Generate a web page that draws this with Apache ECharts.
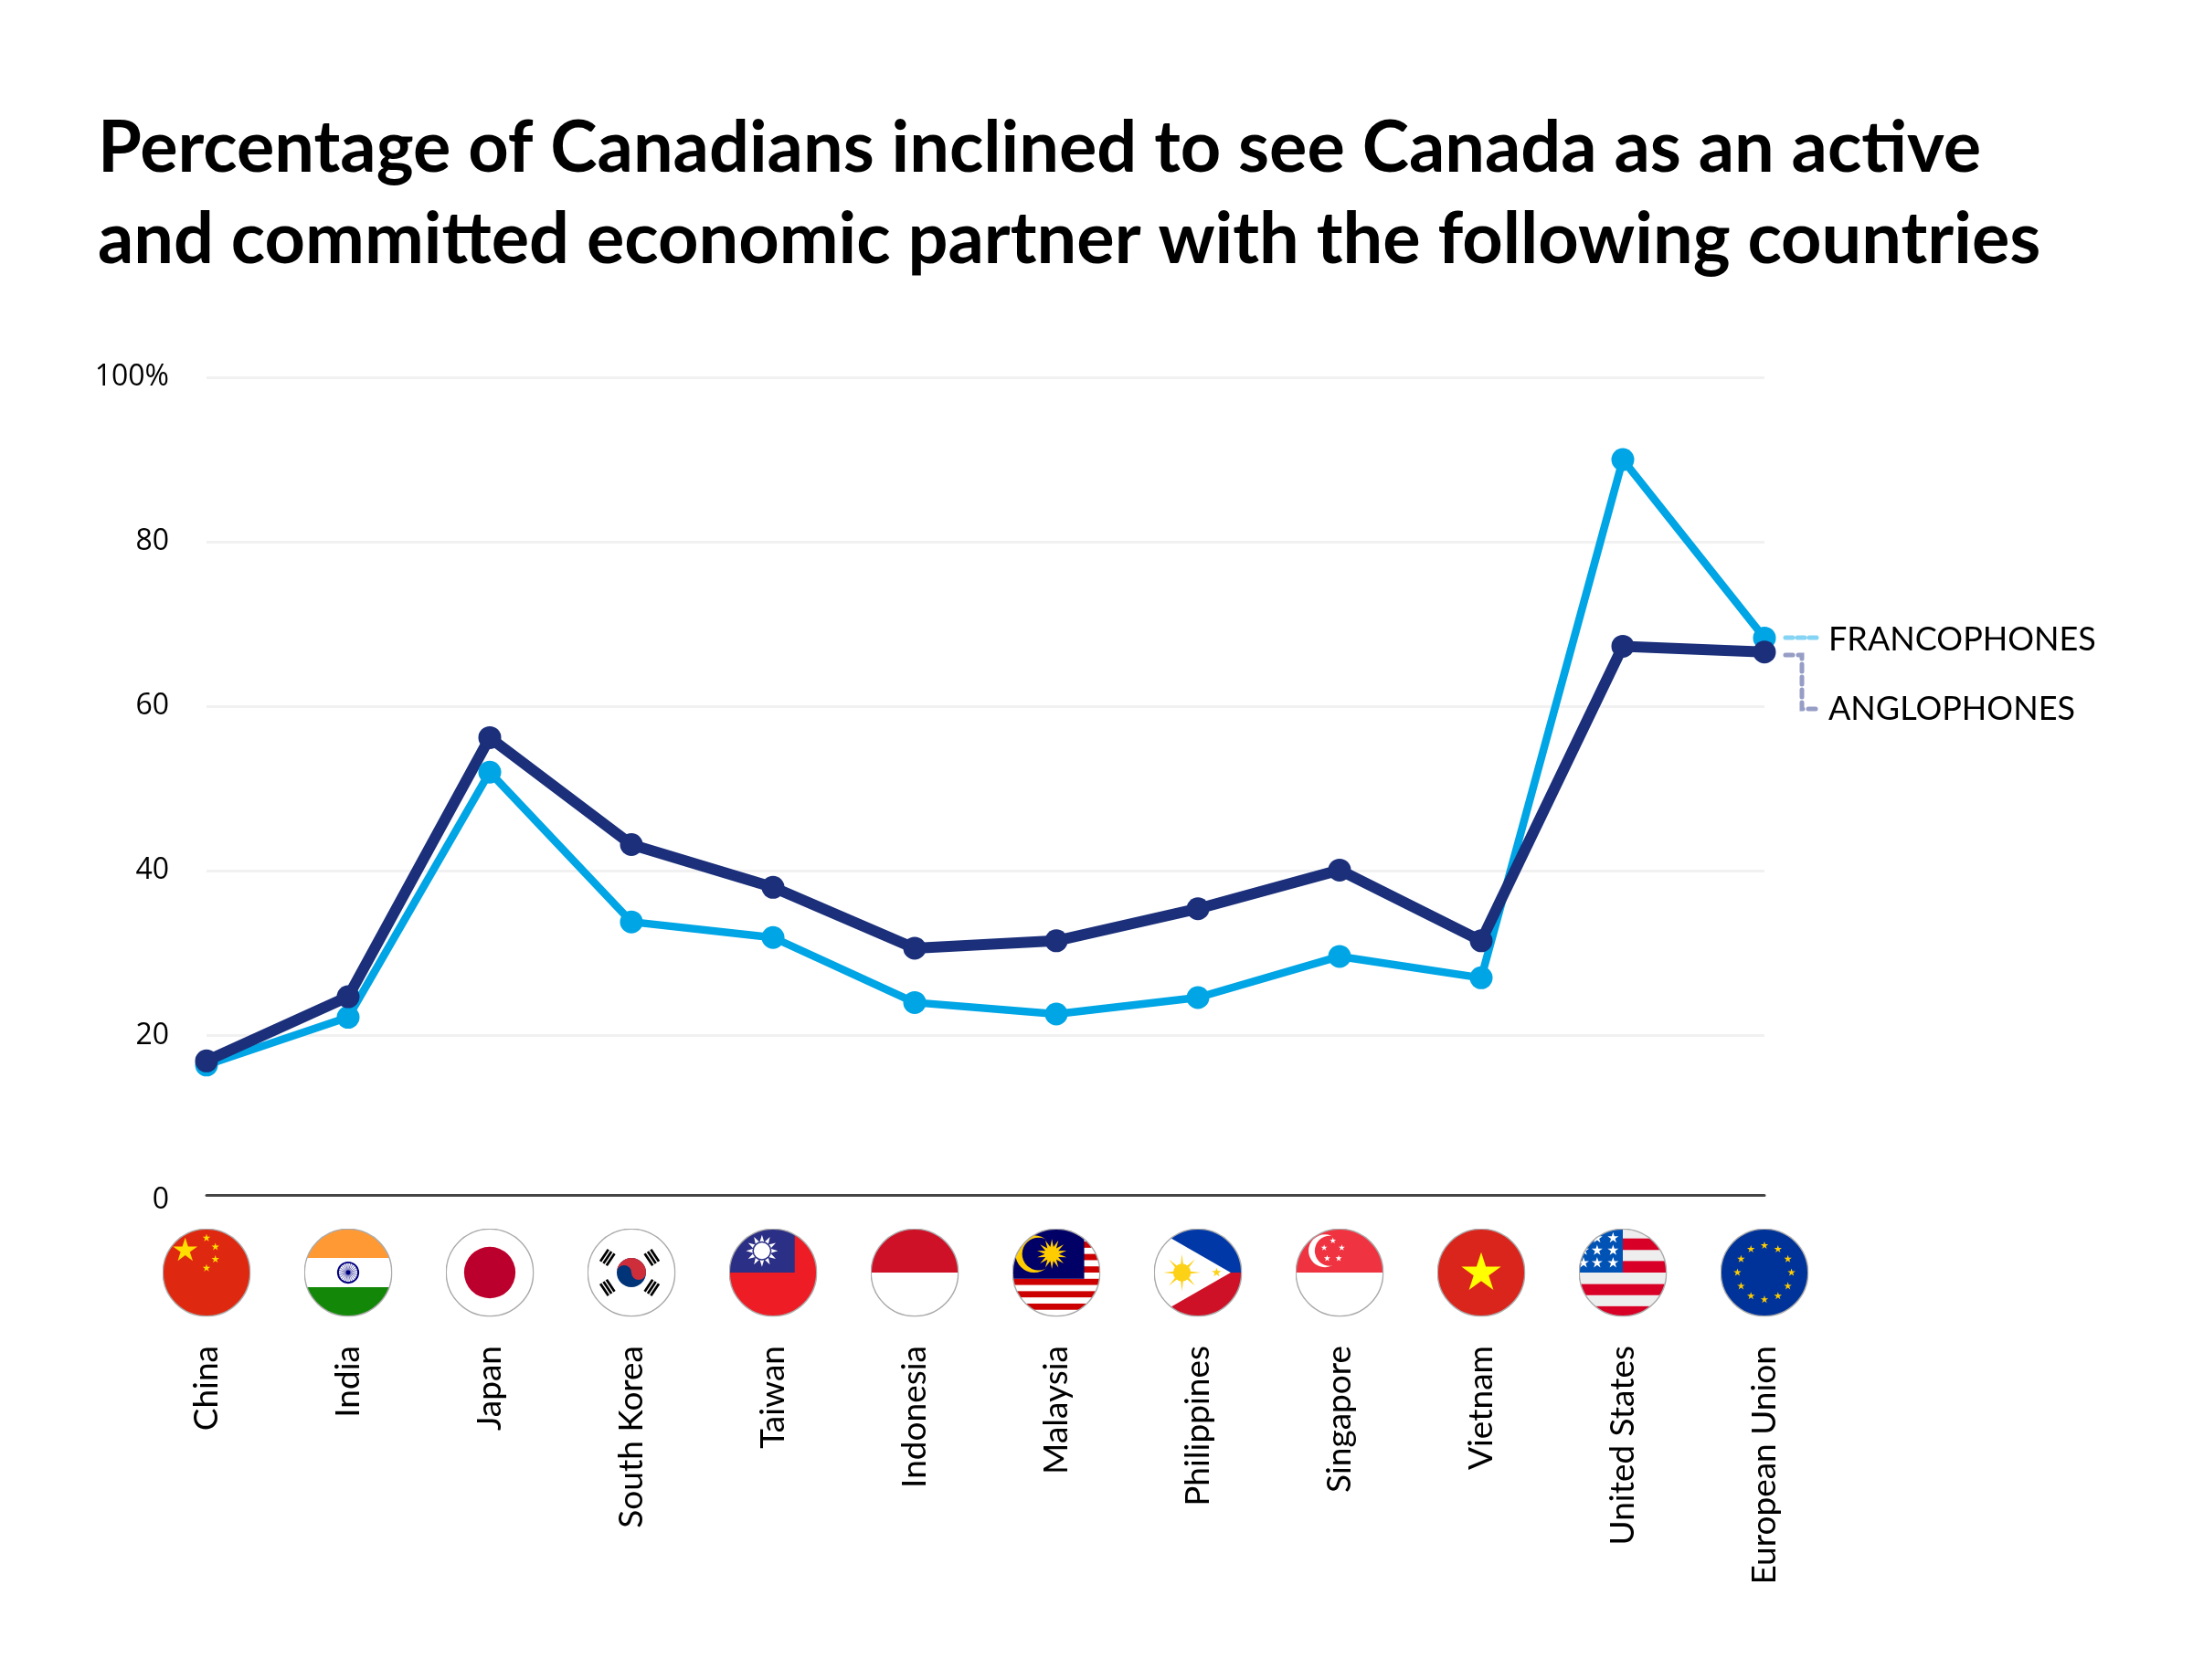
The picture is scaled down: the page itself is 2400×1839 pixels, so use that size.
<!DOCTYPE html>
<html>
<head>
<meta charset="utf-8">
<title>Canada economic partner</title>
<script src="https://cdn.jsdelivr.net/npm/echarts@6/dist/echarts.min.js"></script>
<style>
html,body{margin:0;padding:0;background:#fff;}
#main{width:2400px;height:1839px;}
</style>
</head>
<body>
<div id="main"></div>
<script>
var countries = ['China','India','Japan','South Korea','Taiwan','Indonesia','Malaysia','Philippines','Singapore','Vietnam','United States','European Union'];
var francophones = [16.4,22.2,52.0,33.8,31.9,24.0,22.6,24.6,29.6,27.0,90.0,68.3];
var anglophones = [16.9,24.7,56.2,43.2,38.0,30.6,31.5,35.4,40.1,31.5,67.3,66.6];
var titleLines = ['Percentage of Canadians inclined to see Canada as an active','and committed economic partner with the following countries'];

//多边形星形
function star(cx,cy,R,n,r){
	n = n || 5;
	r = r || R*0.382;
	var pts = [];
	for(var i = 0 ; i < n*2 ; i++){
		var a = -Math.PI/2 + i*Math.PI/n;
		var rr = i%2==0 ? R : r;
		pts.push((cx+rr*Math.cos(a)).toFixed(2)+','+(cy+rr*Math.sin(a)).toFixed(2));
	}
	return pts.join(' ');
}
function starTag(cx,cy,R,fill,n,r){
	return '<polygon fill="'+fill+'" points="'+star(cx,cy,R,n,r)+'"/>';
}
function rect(x,y,w,h,fill){
	return '<rect x="'+x+'" y="'+y+'" width="'+w+'" height="'+h+'" fill="'+fill+'"/>';
}
function circle(x,y,r,fill){
	return '<circle cx="'+x+'" cy="'+y+'" r="'+r+'" fill="'+fill+'"/>';
}
function trigram(x,y,angle){
	var s = '<g transform="translate('+x+' '+y+') rotate('+angle+')">';
	for(var i = -1 ; i <= 1 ; i++){
		s += rect(-8,i*4.2-1.4,16,2.8,'#000');
	}
	return s+'</g>';
}
function flagImage(inner){
	var svg = '<svg xmlns="http://www.w3.org/2000/svg" width="200" height="200" viewBox="0 0 100 100">'
		+'<clipPath id="c"><circle cx="50" cy="50" r="49.2"/></clipPath>'
		+'<g clip-path="url(#c)">'+rect(0,0,100,100,'#fff')+inner+'</g>'
		+'<circle cx="50" cy="50" r="49.2" fill="none" stroke="#aaaaaa" stroke-width="1.5"/></svg>';
	return 'image://data:image/svg+xml;charset=utf-8,'+encodeURIComponent(svg);
}

function indiaFlag(){
	var s = rect(0,0,100,33.5,'#FF9933')+rect(0,66.5,100,33.5,'#138808');
	s += '<circle cx="50" cy="50" r="11.5" fill="none" stroke="#000080" stroke-width="2"/>'+circle(50,50,2.5,'#000080');
	for(var i = 0 ; i < 24 ; i++){
		s += '<line x1="50" y1="50" x2="50" y2="39" stroke="#000080" stroke-width="0.5" transform="rotate('+(i*15)+' 50 50)"/>';
	}
	return s;
}
function koreaFlag(){
	var s = circle(50,50,16.5,'#003478');
	s += '<path fill="#CD2E3A" d="M33.5 50A16.5 16.5 0 0 1 66.5 50A8.25 8.25 0 0 1 50 50A8.25 8.25 0 0 0 33.5 50Z"/>';
	s += trigram(23,33,-56)+trigram(73,33,56)+trigram(23,67,56)+trigram(73,67,-56);
	return s;
}
function taiwanFlag(){
	return rect(0,0,100,100,'#EE1C25')+rect(0,0,74.5,50,'#2B2F85')
		+starTag(37.5,25.5,18,'#fff',12,10)+circle(37.5,25.5,10.8,'#2B2F85')+circle(37.5,25.5,9.2,'#fff');
}
function malaysiaFlag(){
	var s = '';
	for(var y = 1 ; y < 100 ; y += 14){
		s += rect(0,y,100,7,'#CC0001');
	}
	s += rect(0,0,81.5,57,'#010066');
	s += circle(25,29,21,'#FFCC00')+circle(30,29,18.5,'#010066');
	s += starTag(45,29,17,'#FFCC00',14,8);
	return s;
}
function philippinesFlag(){
	var s = rect(0,0,100,50,'#0038A8')+rect(0,50,100,50,'#CE1126');
	s += '<polygon fill="#fff" points="0,0 87,50 0,100"/>';
	s += starTag(32,50,21,'#FCD116',8,5)+circle(32,50,10,'#FCD116');
	s += starTag(71,50,5.5,'#FCD116');
	return s;
}
function singaporeFlag(){
	var s = rect(0,0,100,50,'#EF3340');
	s += circle(33.5,25.5,18.5,'#fff')+circle(39,25.5,17,'#EF3340');
	s += starTag(42.5,14,3.8,'#fff')+starTag(32.6,22,3.8,'#fff')+starTag(52.5,22,3.8,'#fff')+starTag(36,34,3.8,'#fff')+starTag(49,34,3.8,'#fff');
	return s;
}
function usFlag(){
	var s = rect(0,0,100,100,'#EEEEEE')+rect(0,11.5,100,13,'#D80027')+rect(0,37,100,13,'#D80027')+rect(0,63,100,12.5,'#D80027')+rect(0,88,100,12,'#D80027');
	s += rect(0,0,50,50,'#0052B4');
	var xs = [5.7,21,39], ys = [11,25,39];
	for(var i = 0 ; i < xs.length ; i++){
		for(var j = 0 ; j < ys.length ; j++){
			s += starTag(xs[i],ys[j],6.5,'#fff');
		}
	}
	return s;
}
function euFlag(){
	var s = rect(0,0,100,100,'#003399');
	for(var i = 0 ; i < 12 ; i++){
		var a = i*Math.PI/6;
		s += starTag(50+30.5*Math.sin(a),50-30.5*Math.cos(a),4.6,'#FFCC00');
	}
	return s;
}

var flags = [
	flagImage(rect(0,0,100,100,'#DE2910')+starTag(26,25,14.5,'#FFDE00')+starTag(50,11,4.6,'#FFDE00')+starTag(60,21,4.6,'#FFDE00')+starTag(60,35,4.6,'#FFDE00')+starTag(50,45,4.6,'#FFDE00')),
	flagImage(indiaFlag()),
	flagImage(circle(50,50,29,'#BC002D')),
	flagImage(koreaFlag()),
	flagImage(taiwanFlag()),
	flagImage(rect(0,0,100,50,'#CE1126')),
	flagImage(malaysiaFlag()),
	flagImage(philippinesFlag()),
	flagImage(singaporeFlag()),
	flagImage(rect(0,0,100,100,'#DA251D')+starTag(50,50.5,23.5,'#FFFF00')),
	flagImage(usFlag()),
	flagImage(euFlag())
];
var flagData = [];
for(var i = 0 ; i < countries.length ; i++){
	flagData.push({value:[countries[i],0],symbol:flags[i]});
}

var chart = echarts.init(document.getElementById('main'));
var option = {
	backgroundColor:'#fff',
	animation:false,
	title:{
		text:titleLines.join('\n'),
		left:102,
		top:108,
		textStyle:{
			fontFamily:'Lato',
			fontWeight:'bold',
			fontSize:77.5,
			lineHeight:100,
			color:'#000'
		}
	},
	grid:{
		left:226,
		right:469,
		top:413,
		height:900.5
	},
	xAxis:{
		type:'category',
		data:countries,
		boundaryGap:false,
		offset:-5.5,
		axisLine:{lineStyle:{color:'#444',width:3}},
		axisTick:{show:false},
		splitLine:{show:false},
		axisLabel:{
			interval:0,
			rotate:90,
			margin:165,
			fontFamily:'Lato',
			fontSize:37,
			color:'#000'
		}
	},
	yAxis:{
		type:'value',
		min:0,
		max:100,
		interval:20,
		axisLine:{show:false},
		axisTick:{show:false},
		splitLine:{show:true,showMinLine:false,lineStyle:{color:'#F1F1F1',width:3}},
		axisLabel:{
			margin:41,
			padding:[6,0,0,0],
			fontFamily:'Open Sans',
			fontSize:32,
			color:'#000',
			formatter:function(v){
				return v==100 ? '100%' : v;
			}
		}
	},
	series:[
		{
			name:'Flags',
			type:'scatter',
			data:flagData,
			symbolSize:97,
			symbolOffset:[0,79.5],
			clip:false,
			silent:true,
			itemStyle:{opacity:1}
		},
		{
			name:'Francophones',
			type:'line',
			data:francophones,
			symbol:'circle',
			symbolSize:25,
			clip:false,
			lineStyle:{color:'#00A5E5',width:8.5},
			itemStyle:{color:'#00A5E5'}
		},
		{
			name:'Anglophones',
			type:'line',
			data:anglophones,
			symbol:'circle',
			symbolSize:25,
			clip:false,
			lineStyle:{color:'#1B2F7A',width:12},
			itemStyle:{color:'#1B2F7A'}
		}
	],
	graphic:[
		{
			type:'polyline',
			shape:{points:[[1954,698],[1990,698]]},
			style:{stroke:'#85D4F4',lineWidth:5,lineDash:[8,5],lineCap:'round',fill:null}
		},
		{
			type:'polyline',
			shape:{points:[[1954,717],[1972,717],[1972,776],[1990,776]]},
			style:{stroke:'#979EC6',lineWidth:5,lineDash:[8,6],lineCap:'round',fill:null}
		},
		{
			type:'text',
			left:2001,
			top:682,
			style:{text:'FRANCOPHONES',fontFamily:'Lato',fontSize:36,fill:'#000'}
		},
		{
			type:'text',
			left:2001,
			top:758,
			style:{text:'ANGLOPHONES',fontFamily:'Lato',fontSize:36,fill:'#000'}
		}
	]
};
chart.setOption(option);
</script>
</body>
</html>
